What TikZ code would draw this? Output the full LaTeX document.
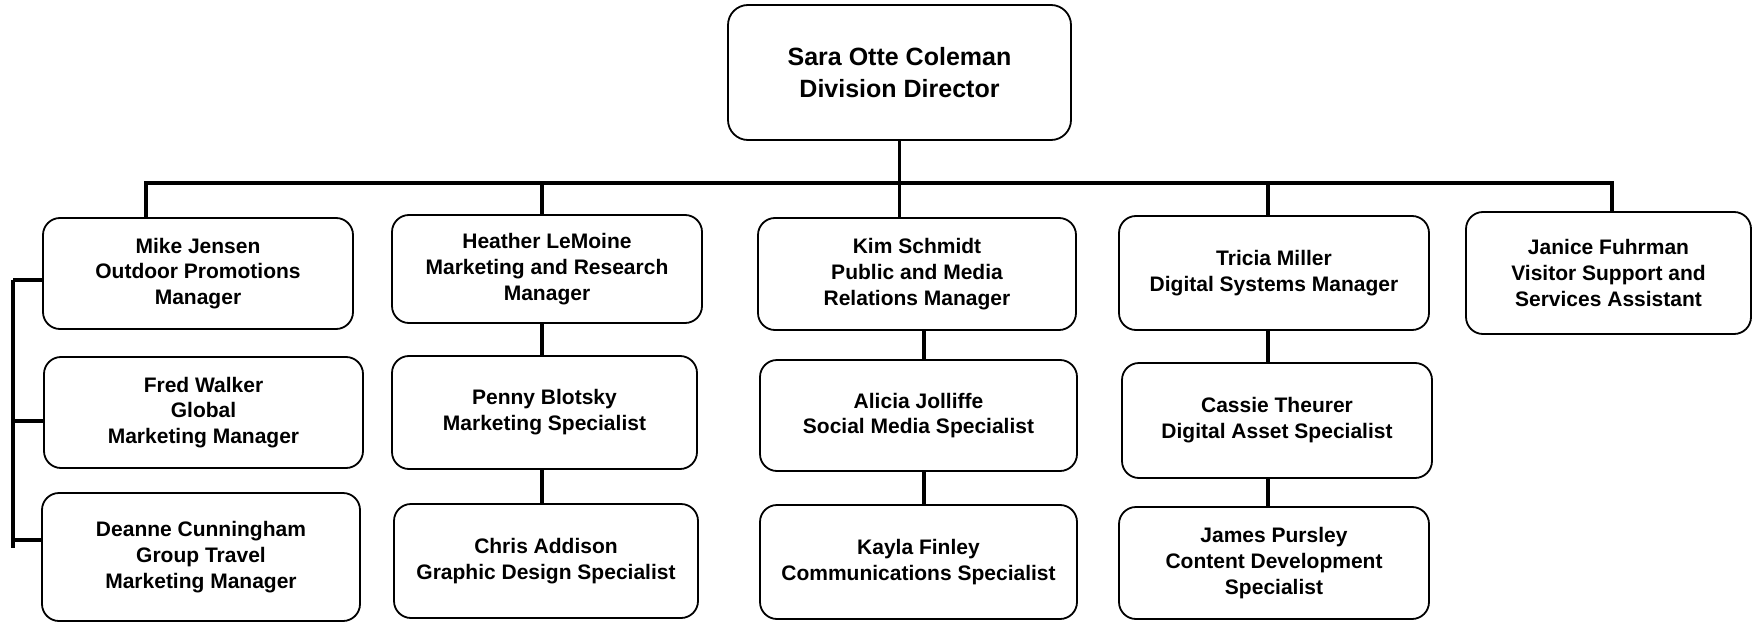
\documentclass[tikz,border=0pt]{standalone}
\usepackage{fontspec}
\setmainfont{Liberation Sans}
\begin{document}
\begin{tikzpicture}[x=1pt,y=-1pt,
  person/.style={draw=black, line width=1.8pt, rounded corners=17pt, align=center,
    inner sep=0pt, font=\fontsize{21}{25.8}\selectfont\bfseries},
  chief/.style={person, rounded corners=20pt, font=\fontsize{25}{32}\selectfont\bfseries},
  link/.style={line width=3.4pt, line cap=rect}]
\useasboundingbox (0,0) rectangle (1756,623);
\fill[white] (0,0) rectangle (1756,623);

% director
\node[chief, minimum width=343pt, minimum height=135pt] (top) at (899.5,72.5)
  {Sara Otte Coleman\\Division Director};

% first row
\node[person, minimum width=310pt, minimum height=111pt] (mike) at (198,273.5)
  {Mike Jensen\\Outdoor Promotions\\Manager};
\node[person, minimum width=310pt, minimum height=108pt] (heather) at (547,269)
  {Heather LeMoine\\Marketing and Research\\Manager};
\node[person, minimum width=318pt, minimum height=112pt] (kim) at (917,274)
  {Kim Schmidt\\Public and Media\\Relations Manager};
\node[person, minimum width=310pt, minimum height=114pt] (tricia) at (1274,273)
  {Tricia Miller\\Digital Systems Manager};
\node[person, minimum width=285pt, minimum height=122pt] (janice) at (1608.5,273)
  {Janice Fuhrman\\Visitor Support and\\Services Assistant};

% second row
\node[person, minimum width=319pt, minimum height=111pt] (fred) at (203.5,412.5)
  {Fred Walker\\Global\\Marketing Manager};
\node[person, minimum width=305pt, minimum height=113pt] (penny) at (544.5,412.5)
  {Penny Blotsky\\Marketing Specialist};
\node[person, minimum width=317pt, minimum height=111pt] (alicia) at (918.5,415.5)
  {Alicia Jolliffe\\Social Media Specialist};
\node[person, minimum width=310pt, minimum height=115pt] (cassie) at (1277,420.5)
  {Cassie Theurer\\Digital Asset Specialist};

% third row
\node[person, minimum width=318pt, minimum height=128pt] (deanne) at (201,557)
  {Deanne Cunningham\\Group Travel\\Marketing Manager};
\node[person, minimum width=304pt, minimum height=114pt] (chris) at (546,561)
  {Chris Addison\\Graphic Design Specialist};
\node[person, minimum width=317pt, minimum height=114pt] (kayla) at (918.5,562)
  {Kayla Finley\\Communications Specialist};
\node[person, minimum width=310pt, minimum height=112pt] (james) at (1274,563)
  {James Pursley\\Content Development\\Specialist};

% bus below the director
\coordinate (b1) at (146,183);
\coordinate (b2) at (542,183);
\coordinate (b3) at (899.5,183);
\coordinate (b4) at (1268,183);
\coordinate (b5) at (1612,183);
\draw[link] (top.south) -- (b3);
\draw[link] (b1) -- (b5);
\draw[link] (b1) -- (b1 |- mike.north);
\draw[link] (b2) -- (b2 |- heather.north);
\draw[link] (b3) -- (b3 |- kim.north);
\draw[link] (b4) -- (b4 |- tricia.north);
\draw[link] (b5) -- (b5 |- janice.north);

% columns
\coordinate (c2) at (542,0);
\coordinate (c3) at (924,0);
\coordinate (c4) at (1268,0);
\draw[link] (c2 |- heather.south) -- (c2 |- penny.north);
\draw[link] (c2 |- penny.south) -- (c2 |- chris.north);
\draw[link] (c3 |- kim.south) -- (c3 |- alicia.north);
\draw[link] (c3 |- alicia.south) -- (c3 |- kayla.north);
\draw[link] (c4 |- tricia.south) -- (c4 |- cassie.north);
\draw[link] (c4 |- cassie.south) -- (c4 |- james.north);

% bracket on the left
\coordinate (t1) at (13,280);
\coordinate (t2) at (13,421);
\coordinate (t3) at (13,540);
\coordinate (tb) at (13,548);
\draw[link, line cap=butt] (t1) -- (tb);
\draw[link, line cap=butt] (t1) -- (t1 -| mike.west);
\draw[link, line cap=butt] (t2) -- (t2 -| fred.west);
\draw[link, line cap=butt] (t3) -- (t3 -| deanne.west);
\end{tikzpicture}
\end{document}
